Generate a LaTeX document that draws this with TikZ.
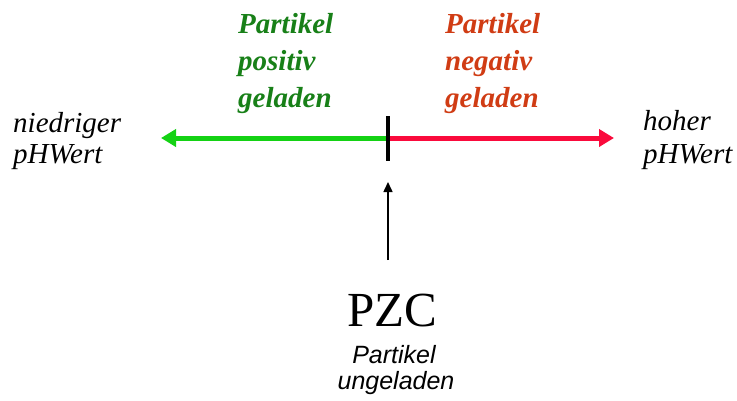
\documentclass[tikz,border=0pt]{standalone}
\usepackage{fontspec}
\setmainfont{Liberation Serif}
\setsansfont{Liberation Sans}
\usetikzlibrary{arrows.meta}
\definecolor{posgreen}{RGB}{24,128,24}
\definecolor{negred}{RGB}{208,60,20}
\definecolor{linegreen}{RGB}{20,210,20}
\definecolor{linered}{RGB}{250,10,60}
\begin{document}
\begin{tikzpicture}[x=1pt,y=-1pt,
  lbl/.style={inner sep=0pt,anchor=base west},
  sidetext/.style={lbl,font=\fontsize{29}{35}\selectfont\itshape},
  postext/.style={lbl,text=posgreen,font=\fontsize{29}{35}\selectfont\bfseries\itshape},
  negtext/.style={lbl,text=negred,font=\fontsize{29}{35}\selectfont\bfseries\itshape},
  subtext/.style={inner sep=0pt,anchor=base,font=\fontsize{25}{30}\selectfont\sffamily\itshape},
  axis/.style={line width=5pt,-{Triangle[length=15pt,width=17pt]}},
  tick/.style={draw=black,line width=4.5pt}]
\useasboundingbox (0,0) rectangle (737,400);
\coordinate (M) at (388,138);
\coordinate (L) at (161,138);
\coordinate (R) at (614,138);
\coordinate (T1) at (388,116);
\coordinate (T2) at (388,161);
\draw[axis,linegreen] (M) -- (L);
\draw[axis,linered] (M) -- (R);
\draw[tick] (T1) -- (T2);
% side labels
\node[sidetext] (n1) at (13,132) {niedriger};
\node[sidetext] (n2) at (13,163) {pHWert};
\node[sidetext] (h1) at (643,130) {hoher};
\node[sidetext] (h2) at (643,163) {pHWert};
% charge labels
\node[postext] (p1) at (238,33) {Partikel};
\node[postext] (p2) at (238,70) {positiv};
\node[postext] (p3) at (238,107) {geladen};
\node[negtext] (q1) at (445,33) {Partikel};
\node[negtext] (q2) at (445,70) {negativ};
\node[negtext] (q3) at (445,107) {geladen};
% PZC
\node[inner sep=0pt,anchor=base,font=\fontsize{49}{55}\selectfont] (pzc) at (392,326) {PZC};
\node[subtext] (u1) at (394,363) {Partikel};
\node[subtext] (u2) at (396,389) {ungeladen};
\coordinate (A0) at (388,260);
\coordinate (A1) at (388,182);
\draw[line width=1.5pt,-{Triangle[length=10pt,width=9pt]}] (A0) -- (A1);
\end{tikzpicture}
\end{document}
